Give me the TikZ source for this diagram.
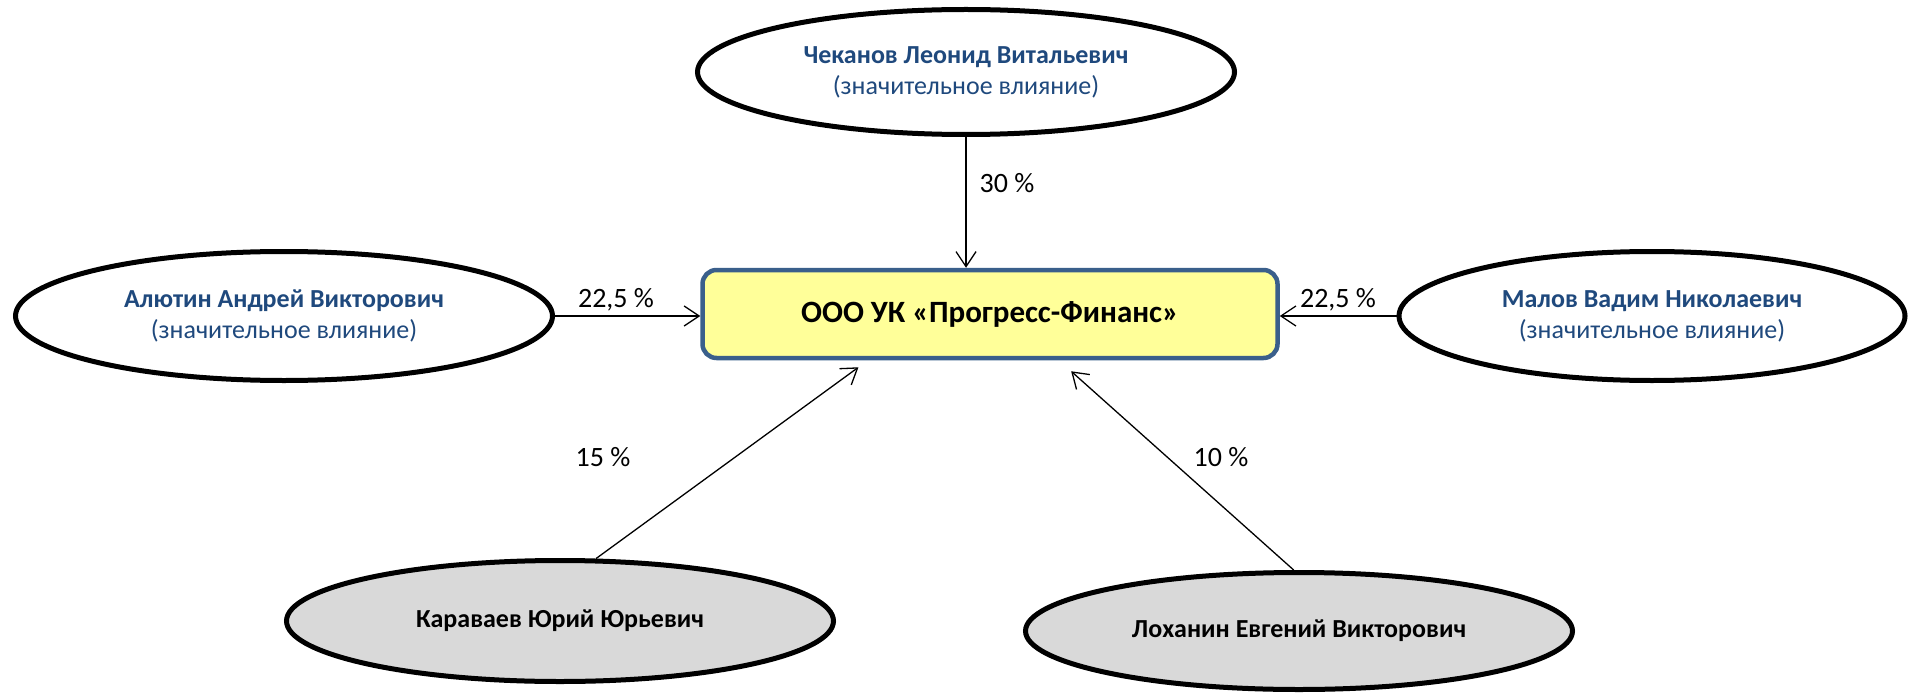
\documentclass[tikz,border=0pt]{standalone}
\usepackage{fontspec}
\setmainfont{Carlito}
\usetikzlibrary{shapes.geometric,arrows.meta,calc}

\definecolor{namecolor}{HTML}{1F497D}
\definecolor{boxborder}{HTML}{3A5F8B}
\definecolor{boxfill}{HTML}{FFFF99}
\definecolor{greyfill}{HTML}{D9D9D9}

\tikzset{
  owner/.style={ellipse, draw=black, line width=5pt, fill=white, inner sep=0pt,
    align=center, text=namecolor, font=\fontsize{26}{31}\selectfont},
  minorowner/.style={owner, fill=greyfill, text=black, font=\fontsize{26}{31}\selectfont\bfseries},
  company/.style={rectangle, rounded corners=14pt, draw=boxborder, line width=4.5pt,
    fill=boxfill, font=\fontsize{31}{36}\selectfont\bfseries},
  share/.style={draw=black, line width=1.3pt, -{Straight Barb[length=15pt,width=20pt]}},
  sharelabel/.style={inner sep=0pt, font=\fontsize{28}{32}\selectfont}
}

\begin{document}
\begin{tikzpicture}[x=1pt,y=-1pt]
  \useasboundingbox (0,0) rectangle (1910,695);

  % the company
  \node[company, minimum width=575pt, minimum height=88pt] (firm) at (990,314)
    {ООО УК «Прогресс-Финанс»};

  % owners
  \node[owner, minimum width=537pt, minimum height=125pt] (chekanov) at (966,72)
    {\textbf{Чеканов Леонид Витальевич}\\(значительное влияние)};
  \node[owner, minimum width=537pt, minimum height=129pt] (alyutin) at (284,316)
    {\textbf{Алютин Андрей Викторович}\\(значительное влияние)};
  \node[owner, minimum width=506pt, minimum height=129pt] (malov) at (1652,316)
    {\textbf{Малов Вадим Николаевич}\\(значительное влияние)};
  \node[minorowner, minimum width=547pt, minimum height=121pt] (karavaev) at (560,621)
    {Караваев Юрий Юрьевич};
  \node[minorowner, minimum width=547pt, minimum height=117pt] (lokhanin) at (1299,631)
    {Лоханин Евгений Викторович};

  % shares
  \draw[share] (chekanov.south) -- (chekanov.south |- firm.north);
  \draw[share] (alyutin.east) -- (alyutin.east -| firm.west);
  \draw[share] (malov.west) -- (malov.west -| firm.east);
  \draw[share] (karavaev.60) -- ($(firm.south west)!0.273!(firm.south east)+(0,7)$);
  \draw[share] (lokhanin.95) -- ($(firm.south west)!0.64!(firm.south east)+(0,11)$);

  \node[sharelabel] (pctChekanov) at (1007,183) {30 \%};
  \node[sharelabel] (pctAlyutin) at (616,300) {22,5 \%};
  \node[sharelabel] (pctMalov) at (1338,300) {22,5 \%};
  \node[sharelabel] (pctKaravaev) at (603,457) {15 \%};
  \node[sharelabel] (pctLokhanin) at (1221,457) {10 \%};
\end{tikzpicture}
\end{document}
